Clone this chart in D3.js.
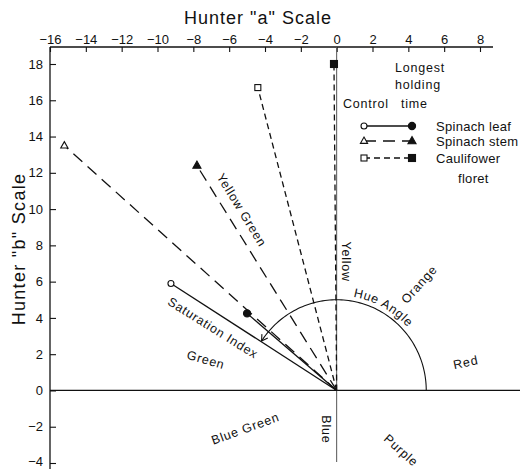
<!DOCTYPE html>
<html><head><meta charset="utf-8">
<script src="https://cdn.jsdelivr.net/npm/d3@7"></script>
<style>
body{margin:0;background:#fff;}
text{font-family:"Liberation Sans",Arial,sans-serif;fill:#111;}
</style></head>
<body><svg id="c" width="520" height="469"></svg>
<script>
// ---- data ----
const seriesNames = ["Spinach leaf", "Spinach stem", "Caulifower floret"];
const controlA = [-9.25, -15.2, -4.4];
const controlB = [5.9, 13.5, 16.7];
const longestA = [-5.0, -7.8, -0.15];
const longestB = [4.25, 12.4, 18.0];
const xTicks = [-16,-14,-12,-10,-8,-6,-4,-2,0,2,4,6,8];
const yTicks = [18,16,14,12,10,8,6,4,2,0,-2,-4];
const hueRadius = 5;
const hueEndDeg = 147.5;
const regionLabels = [
  {t:"Yellow Green", a:-5.3, b:9.95, rot:58.5},
  {t:"Yellow", a:0.55, b:7.1, rot:90},
  {t:"Orange", a:4.6, b:5.85, rot:-48},
  {t:"Saturation Index", a:-6.9, b:3.45, rot:32},
  {t:"Green", a:-7.3, b:1.7, rot:16},
  {t:"Red", a:7.2, b:1.55, rot:-12},
  {t:"Blue Green", a:-5.1, b:-2.1, rot:-20},
  {t:"Blue", a:-0.55, b:-2.15, rot:90},
  {t:"Purple", a:3.6, b:-3.3, rot:42}
];

const svg = d3.select("#c");
const x = d3.scaleLinear().domain([-16, 8]).range([50, 480]);
const y = d3.scaleLinear().domain([-4, 18]).range([463, 64]);
const ink = "#111";

// top axis
const topAxis = d3.axisTop(x).tickValues(xTicks).tickSize(-5).tickPadding(3)
  .tickFormat(d => d < 0 ? "\u2212" + Math.abs(d) : d);
const gx = svg.append("g").attr("transform", "translate(0,47)").call(topAxis);
gx.select(".domain").remove();
gx.selectAll("line").attr("stroke", ink).attr("stroke-width", 1.1);
gx.selectAll("text").attr("font-size", 13).attr("font-family", "Liberation Sans").attr("fill", ink);
svg.append("line").attr("x1", 50).attr("x2", 493).attr("y1", 47).attr("y2", 47)
  .attr("stroke", ink).attr("stroke-width", 1.3);

// left axis
const leftAxis = d3.axisLeft(y).tickValues(yTicks).tickSize(-6).tickPadding(7)
  .tickFormat(d => d < 0 ? "\u2212" + Math.abs(d) : d);
const gy = svg.append("g").attr("transform", "translate(50,0)").call(leftAxis);
gy.select(".domain").remove();
gy.selectAll("line").attr("stroke", ink).attr("stroke-width", 1.1);
gy.selectAll("text").attr("font-size", 13).attr("font-family", "Liberation Sans").attr("fill", ink);
gy.selectAll("text").filter(d => d === -4).attr("dy", "0.22em");
svg.append("line").attr("x1", 50).attr("x2", 50).attr("y1", 47).attr("y2", 469)
  .attr("stroke", ink).attr("stroke-width", 1.3);

// zero lines
svg.append("line").attr("x1", 50).attr("x2", 520).attr("y1", y(0)).attr("y2", y(0))
  .attr("stroke", ink).attr("stroke-width", 1.3);
svg.append("line").attr("x1", x(0)).attr("x2", x(0)).attr("y1", 47).attr("y2", 462)
  .attr("stroke", "#555").attr("stroke-width", 1);

// titles
svg.append("text").attr("x", 258).attr("y", 24).attr("text-anchor", "middle")
  .attr("font-size", 18).attr("letter-spacing", 1).text('Hunter "a" Scale');
svg.append("text").attr("transform", "translate(24.5,249) rotate(-90)").attr("text-anchor", "middle")
  .attr("font-size", 18).attr("letter-spacing", 1.3).text('Hunter "b" Scale');

// series
const dashes = [null, "12,7", "6,4"];
seriesNames.forEach((n, i) => {
  [[controlA[i], controlB[i]], [longestA[i], longestB[i]]].forEach(p => {
    svg.append("line").attr("x1", x(0)).attr("y1", y(0)).attr("x2", x(p[0])).attr("y2", y(p[1]))
      .attr("stroke", ink).attr("stroke-width", 1.3).attr("stroke-dasharray", dashes[i]);
  });
});
function marker(g, i, cx, cy, filled) {
  const fill = filled ? ink : "#fff";
  if (i === 0) g.append("circle").attr("cx", cx).attr("cy", cy).attr("r", filled ? 3.6 : 3)
    .attr("fill", fill).attr("stroke", ink).attr("stroke-width", 1.1);
  else if (i === 1) {
    const s = filled ? 4.5 : 4;
    g.append("path").attr("d", `M${cx},${cy - s}L${cx + s * 0.9},${cy + s * 0.6}L${cx - s * 0.9},${cy + s * 0.6}Z`)
      .attr("fill", fill).attr("stroke", ink).attr("stroke-width", 1.1);
  } else {
    const s = filled ? 7 : 6;
    g.append("rect").attr("x", cx - s / 2).attr("y", cy - s / 2).attr("width", s).attr("height", s)
      .attr("fill", fill).attr("stroke", ink).attr("stroke-width", 1.1);
  }
}
seriesNames.forEach((n, i) => {
  marker(svg, i, x(controlA[i]), y(controlB[i]), false);
  marker(svg, i, x(longestA[i]), y(longestB[i]), true);
});

// hue angle arc
svg.append("defs").append("marker").attr("id", "arr").attr("viewBox", "-8 -5 10 10")
  .attr("markerWidth", 10).attr("markerHeight", 10).attr("orient", "auto").attr("markerUnits", "userSpaceOnUse")
  .append("path").attr("d", "M-6,-3.5L0,0L-6,3.5").attr("fill", "none").attr("stroke", ink).attr("stroke-width", 1.1);
const arcPts = d3.range(0, hueEndDeg + 0.01, 1.5).map(dg => {
  const r = dg * Math.PI / 180;
  return [hueRadius * Math.cos(r), hueRadius * Math.sin(r)];
});
svg.append("path").datum(arcPts)
  .attr("d", d3.line().x(d => x(d[0])).y(d => y(d[1])))
  .attr("fill", "none").attr("stroke", ink).attr("stroke-width", 1.1).attr("marker-end", "url(#arr)");

// Hue Angle text along arc
const cx0 = x(0), cy0 = y(0), rt = 95;
const a1 = 80 * Math.PI / 180, a2 = 20 * Math.PI / 180;
svg.select("defs").append("path").attr("id", "huePath")
  .attr("d", `M${cx0 + rt * Math.cos(a1)},${cy0 - rt * Math.sin(a1)} A${rt},${rt} 0 0 1 ${cx0 + rt * Math.cos(a2)},${cy0 - rt * Math.sin(a2)}`);
svg.append("text").attr("font-size", 12.5).attr("letter-spacing", 0.7)
  .append("textPath").attr("href", "#huePath").text("Hue Angle");

// region labels
regionLabels.forEach(l => {
  svg.append("text").attr("transform", `translate(${x(l.a)},${y(l.b)}) rotate(${l.rot})`)
    .attr("text-anchor", "middle").attr("dy", "0.35em").attr("font-size", 12.5).attr("letter-spacing", 0.8).text(l.t);
});

// legend
const lg = svg.append("g");
lg.append("text").attr("x", 420).attr("y", 72).attr("text-anchor", "middle").attr("font-size", 12.5).attr("letter-spacing", 0.8).text("Longest");
lg.append("text").attr("x", 418).attr("y", 89).attr("text-anchor", "middle").attr("font-size", 12.5).attr("letter-spacing", 0.8).text("holding");
lg.append("text").attr("x", 343).attr("y", 108).attr("font-size", 12.5).attr("letter-spacing", 0.8).text("Control");
lg.append("text").attr("x", 401).attr("y", 108).attr("font-size", 12.5).attr("letter-spacing", 0.8).text("time");
const rowY = [126, 141, 158];
const legendLabels = [["Spinach leaf"], ["Spinach stem"], ["Caulifower", "floret"]];
seriesNames.forEach((n, i) => {
  lg.append("line").attr("x1", 364).attr("x2", 412).attr("y1", rowY[i]).attr("y2", rowY[i])
    .attr("stroke", ink).attr("stroke-width", 1.3).attr("stroke-dasharray", dashes[i]);
  marker(lg, i, 364, rowY[i], false);
  marker(lg, i, 412, rowY[i], true);
  legendLabels[i].forEach((t, k) => {
    lg.append("text").attr("x", k === 0 ? 436 : 458).attr("y", rowY[i] + 5 + k * 20)
      .attr("font-size", 13).attr("letter-spacing", 0.3).text(t);
  });
});
</script></body></html>
